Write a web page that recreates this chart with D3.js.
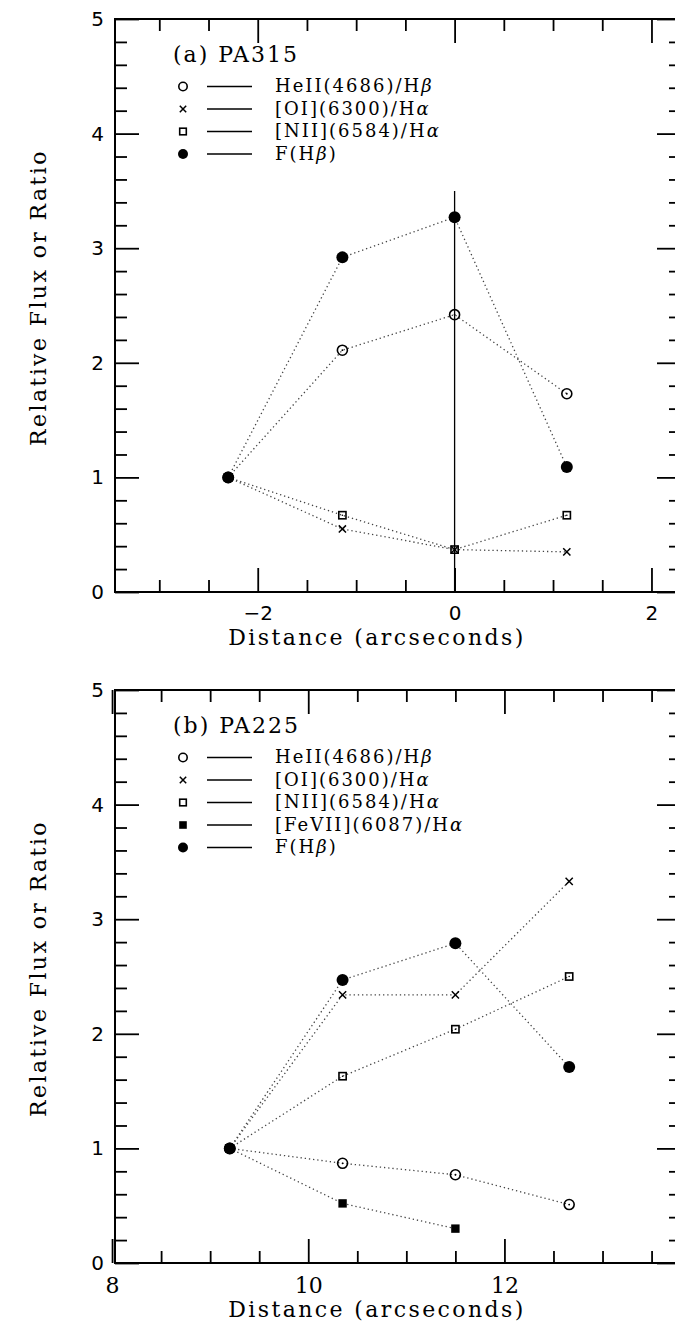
<!DOCTYPE html>
<html lang="en">
<head>
<meta charset="UTF-8" />
<script src="https://d3js.org/d3.v7.min.js"></script>
<title>Relative flux or ratio vs distance</title>
<style>
  body { margin: 0; background: #fff; }
  svg { display: block; }
</style>
</head>
<body>
<script>
// panel (a) PA315
const distA = [-2.30, -1.14, 0, 1.14]
const heiiA = [1, 2.11, 2.42, 1.73]
const oiA = [1, 0.55, 0.37, 0.35]
const niiA = [1, 0.67, 0.37, 0.67]
const fhbA = [1, 2.92, 3.27, 1.09]
const vlineA = [0, 3.5]   // x, top value of the solid vertical line

// panel (b) PA225
const distB = [9.20, 10.35, 11.50, 12.66]
const heiiB = [1, 0.87, 0.77, 0.51]
const oiB = [1, 2.34, 2.34, 3.33]
const niiB = [1, 1.63, 2.04, 2.50]
const feviiB = [1, 0.52, 0.30]
const fhbB = [1, 2.47, 2.79, 1.71]

const yTicks = [0, 1, 2, 3, 4, 5]
const xTicksA = [-2, 0, 2]
const xTicksB = [8, 10, 12]

const labHeii = "HeII(4686)/Hβ"
const labOi = "[OI](6300)/Hα"
const labNii = "[NII](6584)/Hα"
const labFevii = "[FeVII](6087)/Hα"
const labFhb = "F(Hβ)"

const svg = d3.select("body").append("svg").attr("width", 675).attr("height", 1323)

const serif = "'DejaVu Serif', serif"
const sans = "'DejaVu Sans', sans-serif"

// marker drawers
const markers = {
  circle: (g, big) => {
    g.append("circle").attr("r", big ? 5 : 4.2).attr("fill", "none").attr("stroke", "#000").attr("stroke-width", 1.6)
    if (big) g.append("circle").attr("r", 0.9).attr("fill", "#000")
  },
  cross: (g, big) => {
    const s = big ? 3.6 : 3.2
    g.append("path").attr("d", `M${-s},${-s}L${s},${s}M${-s},${s}L${s},${-s}`).attr("stroke", "#000").attr("stroke-width", 1.5)
  },
  square: (g, big) => {
    const s = big ? 3.6 : 3.3
    g.append("rect").attr("x", -s).attr("y", -s).attr("width", 2 * s).attr("height", 2 * s).attr("fill", "none").attr("stroke", "#000").attr("stroke-width", 1.6)
    if (big) g.append("circle").attr("r", 0.8).attr("fill", "#000")
  },
  fsquare: (g, big) => {
    const s = big ? 4.2 : 3.8
    g.append("rect").attr("x", -s).attr("y", -s).attr("width", 2 * s).attr("height", 2 * s).attr("fill", "#000")
  },
  fcircle: (g, big) => {
    g.append("circle").attr("r", big ? 6 : 5).attr("fill", "#000")
  }
}

function greekText(sel, label) {
  // greek letter in italics, keep any closing bracket after it
  const m = label.match(/^(.*)([αβ])(\)?)$/)
  sel.append("tspan").text(m[1])
  sel.append("tspan").attr("font-style", "italic").text(m[2])
  if (m[3]) sel.append("tspan").text(m[3])
}

function panel(cfg) {
  const x = d3.scaleLinear().domain(cfg.xDomain).range([115, 681])
  const y = d3.scaleLinear().domain([0, 5]).range([cfg.bottom, cfg.top])
  const g = svg.append("g")

  const minorX = d3.range(Math.ceil(cfg.xDomain[0] * 2) / 2, cfg.xDomain[1], 0.5).filter(v => !cfg.xTicks.includes(v))
  const minorY = d3.range(0.2, 5, 0.2).filter(v => Math.abs(v - Math.round(v)) > 0.01)

  const style = (a, font, size) => {
    a.select(".domain").remove()
    a.selectAll("line").attr("stroke", "#000").attr("stroke-width", 1.8)
    a.selectAll("text").attr("fill", "#000").attr("font-family", font).attr("font-size", size)
  }

  // bottom
  g.append("g").attr("transform", `translate(0,${cfg.bottom})`)
    .call(d3.axisBottom(x).tickValues(minorX).tickSize(-12).tickFormat(""))
    .call(a => style(a, sans, 20))
  g.append("g").attr("transform", `translate(0,${cfg.bottom})`)
    .call(d3.axisBottom(x).tickValues(cfg.xTicks).tickSize(-24).tickPadding(14).tickFormat(d => d < 0 ? "−" + Math.abs(d) : d))
    .call(a => style(a, cfg.xFont, cfg.xFontSize))
  // top
  g.append("g").attr("transform", `translate(0,${cfg.top})`)
    .call(d3.axisTop(x).tickValues(minorX).tickSize(-12).tickFormat(""))
    .call(a => style(a, sans, 20))
  g.append("g").attr("transform", `translate(0,${cfg.top})`)
    .call(d3.axisTop(x).tickValues(cfg.xTicks).tickSize(-24).tickFormat(""))
    .call(a => style(a, sans, 20))
  // left
  g.append("g").attr("transform", `translate(115,0)`)
    .call(d3.axisLeft(y).tickValues(minorY).tickSize(-12).tickFormat(""))
    .call(a => style(a, sans, 20))
  g.append("g").attr("transform", `translate(115,0)`)
    .call(d3.axisLeft(y).tickValues(yTicks).tickSize(-24).tickPadding(11).tickFormat(d3.format("d")))
    .call(a => style(a, sans, 20))
  // right
  g.append("g").attr("transform", `translate(681,0)`)
    .call(d3.axisRight(y).tickValues(minorY).tickSize(-12).tickFormat(""))
    .call(a => style(a, sans, 20))
  g.append("g").attr("transform", `translate(681,0)`)
    .call(d3.axisRight(y).tickValues(yTicks).tickSize(-24).tickFormat(""))
    .call(a => style(a, sans, 20))

  // frame
  g.append("rect").attr("x", 115).attr("y", cfg.top).attr("width", 681 - 115).attr("height", cfg.bottom - cfg.top)
    .attr("fill", "none").attr("stroke", "#000").attr("stroke-width", 2)

  // axis titles
  g.append("text").attr("x", 377).attr("y", cfg.bottom + cfg.titleGap).attr("text-anchor", "middle")
    .attr("font-family", serif).attr("font-size", 22).attr("letter-spacing", 2.4).text("Distance (arcseconds)")
  g.append("text").attr("transform", `translate(46,${(cfg.top + cfg.bottom) / 2 - 8}) rotate(-90)`).attr("text-anchor", "middle")
    .attr("font-family", serif).attr("font-size", 22).attr("letter-spacing", 2.4).text("Relative Flux or Ratio")

  // vertical line
  if (cfg.vline) {
    g.append("line").attr("x1", x(cfg.vline[0])).attr("x2", x(cfg.vline[0]))
      .attr("y1", y(0)).attr("y2", y(cfg.vline[1])).attr("stroke", "#000").attr("stroke-width", 1.3)
  }

  // dotted connecting lines
  const line = d3.line().x(d => x(d[0])).y(d => y(d[1]))
  cfg.series.forEach(s => {
    const pts = s.vals.map((v, i) => [cfg.dist[i], v])
    g.append("path").attr("d", line(pts)).attr("fill", "none").attr("stroke", "#444")
      .attr("stroke-width", 1.3).attr("stroke-dasharray", "1.3,2.9")
  })
  // markers (F(Hb) last so it sits on top)
  cfg.series.forEach(s => {
    s.vals.forEach((v, i) => {
      const m = g.append("g").attr("transform", `translate(${x(cfg.dist[i])},${y(v)})`)
      markers[s.marker](m, true)
    })
  })

  // legend
  g.append("text").attr("x", 173).attr("y", cfg.top + 42.5).attr("font-family", serif).attr("font-size", 22)
    .attr("letter-spacing", 2).text(cfg.title)
  cfg.series.forEach((s, i) => {
    const ry = cfg.top + 67.5 + i * 22.5
    markers[s.marker](g.append("g").attr("transform", `translate(183,${ry})`), false)
    g.append("line").attr("x1", 207).attr("x2", 252).attr("y1", ry).attr("y2", ry).attr("stroke", "#000").attr("stroke-width", 1.6)
    g.append("text").attr("x", 275).attr("y", ry + 5.5).attr("font-family", serif).attr("font-size", 18)
      .attr("letter-spacing", 2).call(t => greekText(t, s.label))
  })
}

panel({
  top: 19, bottom: 592, xDomain: [-3.45, 2.3], xTicks: xTicksA, xFont: sans, xFontSize: 20, titleGap: 53,
  title: "(a) PA315", dist: distA, vline: vlineA,
  series: [
    { label: labHeii, vals: heiiA, marker: "circle" },
    { label: labOi, vals: oiA, marker: "cross" },
    { label: labNii, vals: niiA, marker: "square" },
    { label: labFhb, vals: fhbA, marker: "fcircle" }
  ]
})

panel({
  top: 690, bottom: 1263, xDomain: [8.03, 13.8], xTicks: xTicksB, xFont: serif, xFontSize: 22, titleGap: 54,
  title: "(b) PA225", dist: distB, vline: null,
  series: [
    { label: labHeii, vals: heiiB, marker: "circle" },
    { label: labOi, vals: oiB, marker: "cross" },
    { label: labNii, vals: niiB, marker: "square" },
    { label: labFevii, vals: feviiB, marker: "fsquare" },
    { label: labFhb, vals: fhbB, marker: "fcircle" }
  ]
})
</script>
</body>
</html>
